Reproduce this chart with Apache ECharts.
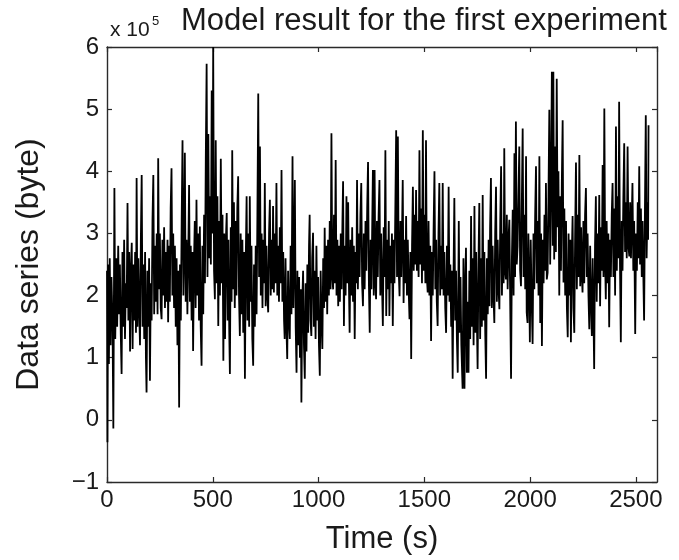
<!DOCTYPE html>
<html>
<head>
<meta charset="utf-8">
<script src="https://cdn.jsdelivr.net/npm/echarts@6/dist/echarts.min.js"></script>
<style>
html,body{margin:0;padding:0;background:#fff;}
#chart{width:679px;height:560px;}
</style>
</head>
<body>
<div id="chart"></div>
<script>
// Values: [time (s), data (x 10^5 byte)]
var seg0 = [[0,2.4],[2,-0.36],[5,2.5],[9,0.9],[13,2.6],[17,1.2],[21,2.3],[26,1.6],[30,-0.14],[35,3.73],[39,1.3],[44,2.6],[48,1.5],[53,2.8],[57,1.7],[61,2.5],[65,1.4],[69,0.74],[73,2.7],[77,1.5],[81,2.9],[85,1.3],[89,2.2],[93,1.8],[97,3.49],[101,1.6],[105,2.7],[109,1.1],[113,2.4]];
var seg1 = [[117,2.85],[121,1.14],[125,2.5],[129,1.6],[133,2.7],[137,1.4],[140,3.89],[144,1.5],[148,2.6],[152,1.8],[156,1.2],[160,2.9],[164,3.94],[168,1.5],[172,2.5],[176,1.3],[180,2.7],[184,1.0],[187,0.44],[191,2.4],[195,1.5],[199,2.6],[203,0.63],[207,2.2],[211,1.6],[215,3.2],[219,3.94],[223,1.7],[227,2.8],[231,1.9],[235,3.0],[239,1.7],[242,4.21],[246,2.1],[250,3.0],[254,1.8],[258,1.62],[262,2.9],[266,2.0],[270,3.1],[274,1.8],[278,2.7],[282,1.9],[286,2.9],[289,1.57],[293,2.8],[297,1.9],[301,3.4],[305,4.05],[309,2.0],[313,3.0],[317,1.8],[321,2.8],[325,1.5],[329,2.6],[333,1.2],[337,2.4],[341,0.2],[345,2.5],[349,1.6],[353,3.2],[357,4.5],[361,2.0],[365,2.8],[368,4.3],[372,1.9],[376,2.9],[380,1.7],[384,2.6],[388,3.78],[392,1.9],[396,2.8],[400,1.6],[404,2.7],[407,1.11],[411,2.5]];
var seg2 = [[415,3.2],[419,1.8],[423,3.54],[427,2.0],[431,3.0],[435,1.6],[439,3.11],[443,1.5],[447,0.87],[451,2.8],[455,1.7],[459,3.3],[463,2.2],[467,4.2],[471,5.73],[475,2.3],[479,4.6],[483,2.6],[487,3.6],[491,2.5],[495,5.3],[499,3.0],[502,6.0],[506,2.4],[510,1.94],[514,4.5],[518,2.2],[522,3.6],[526,1.51],[530,3.2],[534,2.0],[538,4.2],[542,2.2],[546,3.3],[550,0.95],[554,3.0],[558,1.3],[562,2.9],[566,3.33],[570,1.6],[574,2.9],[578,1.4],[581,0.74],[585,3.1],[589,1.9],[592,4.34],[596,2.1],[600,3.5],[604,1.8],[608,3.2],[612,2.0],[616,3.4],[620,3.92],[624,2.0],[628,1.35],[632,3.0],[636,1.7],[640,2.9],[644,1.4],[648,2.7],[652,0.66],[656,2.6],[660,3.6],[664,1.6],[668,3.0],[672,1.5],[675,3.6],[679,1.9],[683,2.8],[687,1.3],[691,0.87],[695,2.5],[699,1.5],[703,2.8],[707,1.7],[711,3.3],[715,5.25],[719,2.3],[723,4.4],[727,2.0],[731,3.0],[735,1.8],[739,2.9],[743,2.2],[746,3.81],[750,1.83],[754,2.8],[758,2.0],[762,1.73],[766,3.0],[770,3.54],[774,2.0],[778,2.9],[782,2.1],[785,3.44],[789,2.05],[793,3.0],[797,2.2],[801,3.81],[805,2.0],[809,2.8],[813,1.9],[817,3.1],[821,2.2],[825,4.02],[829,1.9],[833,2.7],[837,1.6],[840,1.3]];
var seg3 = [[844,2.6],[848,1.5],[852,0.98],[856,2.4],[860,1.6],[864,1.3],[868,2.8],[872,1.7],[877,4.24],[881,1.8],[885,2.7],[888,3.86],[892,1.5],[896,0.76],[900,2.4],[904,1.2],[908,2.3],[912,1.0],[916,2.1],[919,0.28],[923,1.9],[927,2.4],[931,1.2],[935,0.66],[939,2.2],[943,1.1],[947,2.5],[951,1.4],[955,2.8],[958,3.3],[962,1.6],[966,1.35],[970,2.6],[974,3.01],[978,1.5],[982,2.4],[986,1.3],[990,2.8],[994,1.6],[998,2.3],[1002,1.2],[1006,0.71],[1010,2.4],[1014,1.6],[1018,1.14],[1022,2.6],[1026,1.8],[1029,3.09],[1033,1.9],[1037,2.8],[1041,1.7],[1045,2.9],[1049,2.0],[1053,3.2],[1057,2.1],[1061,4.61],[1065,2.3],[1069,2.1],[1073,3.3],[1077,2.2],[1081,4.18],[1085,2.0],[1089,2.9],[1093,1.83],[1097,2.8],[1101,1.9],[1105,3.0],[1109,2.1],[1113,3.2],[1116,3.84],[1120,1.51],[1124,2.8],[1128,2.0],[1132,3.6],[1136,2.2],[1140,3.5],[1144,2.1],[1147,1.4],[1151,2.9],[1155,2.0],[1159,3.1],[1163,1.9],[1167,2.8],[1171,1.3],[1175,2.7],[1179,2.2],[1182,3.86],[1186,2.1],[1190,3.0],[1194,2.3],[1198,3.3],[1202,3.81],[1206,2.2],[1210,1.83],[1214,3.0],[1218,2.1],[1222,3.2],[1226,2.4],[1230,3.4],[1234,4.15],[1238,2.2],[1242,1.4],[1246,2.9],[1250,2.1],[1254,3.2],[1257,4.02]];
var seg4 = [[1261,2.0],[1265,4.02],[1269,2.2],[1272,1.94],[1276,3.2],[1280,2.3],[1284,3.3],[1288,3.86],[1292,2.0],[1296,3.0],[1300,2.2],[1304,1.51],[1308,3.1],[1312,2.3],[1316,4.34],[1320,1.67],[1324,2.9],[1328,2.1],[1332,3.2],[1335,1.67],[1339,2.8],[1343,2.2],[1347,3.0],[1351,1.51],[1355,2.9],[1359,2.2],[1363,3.4],[1367,4.66],[1371,2.3],[1375,4.56],[1379,2.4],[1383,1.99],[1387,3.2],[1391,2.3],[1395,3.1],[1398,3.86],[1402,1.88],[1406,2.9],[1410,2.2],[1414,3.28],[1418,2.0],[1422,2.9],[1426,2.1],[1430,1.62],[1434,2.7],[1438,0.98],[1442,2.8],[1446,3.75],[1450,2.4],[1454,3.3],[1458,2.5],[1461,3.7],[1465,2.4],[1469,3.2],[1473,2.3],[1477,4.34],[1481,2.5],[1485,3.4],[1489,2.2],[1493,4.66],[1497,2.4],[1501,3.3],[1505,2.2],[1508,4.5],[1512,2.3],[1516,2.05],[1520,3.2],[1524,2.0],[1528,2.8],[1532,1.27],[1536,2.7],[1540,2.0],[1544,3.1],[1548,4.0],[1552,2.1],[1556,2.9],[1559,1.9],[1563,1.51],[1567,3.0],[1571,3.81],[1575,2.0],[1579,2.8],[1583,2.1],[1587,3.81],[1591,2.0],[1595,2.7],[1599,1.8],[1603,1.4],[1607,2.8],[1611,2.0],[1615,3.75],[1619,1.9],[1623,2.5],[1627,1.5],[1630,2.4],[1634,0.66],[1638,2.3],[1642,3.57],[1646,1.6],[1650,2.4],[1654,1.3],[1658,0.76],[1663,3.2],[1667,1.4],[1671,2.3],[1675,1.2],[1681,0.5]];
var seg5 = [[1685,2.6],[1690,0.5],[1694,2.3],[1697,2.77],[1701,0.76],[1705,1.9],[1709,0.76],[1713,2.4],[1717,1.3],[1721,3.28],[1725,1.5],[1729,2.6],[1733,1.2],[1737,3.44],[1741,1.4],[1745,2.7],[1749,1.5],[1752,0.82],[1756,2.5],[1760,3.49],[1764,1.3],[1768,2.6],[1772,1.5],[1776,3.62],[1780,1.6],[1784,2.7],[1788,1.4],[1792,0.66],[1796,2.6],[1800,1.7],[1804,2.9],[1808,1.83],[1811,3.1],[1815,3.89],[1819,1.8],[1823,2.8],[1827,2.0],[1831,1.56],[1835,3.0],[1839,3.75],[1843,1.9],[1847,2.9],[1851,2.1],[1855,1.78],[1859,3.2],[1863,4.08],[1867,2.0],[1871,3.0],[1875,2.2],[1878,4.37],[1882,2.4],[1886,2.26],[1890,3.3],[1894,2.1],[1898,2.9],[1902,3.22],[1906,1.9],[1910,0.66],[1914,2.6],[1918,3.38],[1922,2.0],[1926,4.29],[1929,2.3],[1933,4.8],[1937,2.5],[1941,2.8],[1945,3.6],[1949,4.4],[1953,2.4],[1957,2.15],[1961,3.5],[1965,4.69],[1969,2.3],[1973,3.3],[1977,2.1],[1981,4.24],[1984,1.73],[1988,1.56],[1992,3.0],[1996,2.1],[1999,1.25],[2003,2.9],[2007,2.0],[2012,1.22],[2016,3.0],[2020,2.1],[2024,3.3],[2028,4.08],[2032,2.2],[2036,3.2],[2040,2.0],[2044,4.24],[2048,1.56],[2052,3.0],[2056,1.19],[2060,2.9],[2064,2.2],[2068,3.3],[2072,2.4],[2075,3.81],[2079,2.26],[2083,2.37],[2087,3.6],[2091,4.99],[2095,2.5],[2099,3.8],[2103,5.6]];
var seg6 = [[2107,2.8],[2110,5.6],[2114,2.58],[2118,4.4],[2122,2.7],[2126,5.49],[2130,3.1],[2134,4.0],[2138,2.0],[2142,3.6],[2146,2.4],[2150,3.8],[2154,4.82],[2158,2.21],[2162,3.4],[2166,2.0],[2170,3.2],[2174,1.8],[2178,1.33],[2182,3.0],[2186,2.0],[2190,2.9],[2193,1.25],[2197,2.6],[2201,3.28],[2205,1.8],[2209,1.4],[2213,3.0],[2217,4.14],[2221,2.1],[2225,3.3],[2229,2.3],[2233,4.26],[2237,2.15],[2241,3.1],[2245,2.3],[2248,2.05],[2252,3.2],[2256,2.2],[2260,3.3],[2264,3.73],[2268,2.3],[2272,3.0],[2276,2.0],[2280,1.46],[2284,2.8],[2288,1.9],[2292,1.35],[2296,2.6],[2300,1.6],[2303,0.82],[2307,2.8],[2311,3.6],[2315,1.9],[2319,3.0],[2323,2.2],[2327,3.62],[2331,1.83],[2335,3.1],[2339,2.4],[2343,4.1],[2347,2.3],[2351,5.01],[2355,2.5],[2358,1.94],[2362,3.2],[2366,2.2],[2370,3.0],[2374,1.49],[2378,2.9],[2382,2.3],[2386,3.3],[2390,3.81],[2394,2.3],[2398,3.4],[2402,2.0],[2406,4.72],[2410,2.4],[2414,3.6],[2418,2.6],[2421,5.12],[2425,2.5],[2429,1.25],[2433,3.2],[2437,2.4],[2441,3.6],[2445,4.45],[2449,2.7],[2453,3.5],[2457,2.6],[2461,4.4],[2465,2.8],[2469,2.63],[2473,3.5],[2477,2.6],[2481,3.3],[2484,3.81],[2488,2.4],[2492,3.2],[2497,1.38],[2501,3.0],[2505,2.4],[2509,3.5],[2512,2.6],[2516,4.08],[2520,2.5],[2524,3.4],[2528,2.3],[2532,3.2],[2536,2.2],[2539,1.6],[2543,3.4],[2547,4.9],[2551,2.6],[2555,3.5],[2558,2.9],[2560,4.74]];

var xTicks = [0, 500, 1000, 1500, 2000, 2500];
var yTicks = [-1, 0, 1, 2, 3, 4, 5, 6];
var titleText = 'Model result for the first experiment';
var xName = 'Time (s)';
var yName = 'Data series (byte)';

var series = seg0.concat(seg1, seg2, seg3, seg4, seg5, seg6);

var FONT = 'Liberation Sans, Arial, Helvetica, sans-serif';
var TXT = '#1a1a1a';
var AX = '#2a2a2a';

function yFmt(v){ return v < 0 ? '\u2212' + Math.abs(v) : String(v); }
function xFmt(v){ return xTicks.indexOf(v) >= 0 ? String(v) : ''; }

var chart = echarts.init(document.getElementById('chart'), null, {renderer:'canvas'});
var axisLine = {show:true, onZero:false, lineStyle:{color:AX, width:1.4}};
var tick = {show:true, inside:true, length:5, lineStyle:{color:AX, width:1.2}};

chart.setOption({
  animation:false,
  backgroundColor:'#ffffff',
  title:{
    text:titleText, left:181, top:6, padding:0,
    textStyle:{fontFamily:FONT, fontSize:31, fontWeight:'normal', color:TXT}
  },
  graphic:[
    {type:'text', x:110, y:30, style:{text:'x 10', font:'21px ' + FONT, fill:TXT, textVerticalAlign:'middle'}},
    {type:'text', x:152, y:21, style:{text:'5', font:'13px ' + FONT, fill:TXT, textVerticalAlign:'middle'}}
  ],
  grid:{left:107, right:22, top:47, bottom:77, containLabel:false},
  xAxis:[
    {type:'value', min:0, max:2600, interval:500, position:'bottom',
     name:xName, nameLocation:'middle', nameGap:42,
     nameTextStyle:{fontFamily:FONT, fontSize:31, color:TXT},
     axisLine:axisLine, axisTick:tick, splitLine:{show:false},
     axisLabel:{fontFamily:FONT, fontSize:24, color:TXT, margin:6, formatter:xFmt, showMaxLabel:false}},
    {type:'value', min:0, max:2600, interval:500, position:'top',
     axisLine:axisLine, axisTick:tick, splitLine:{show:false}, axisLabel:{show:false}}
  ],
  yAxis:[
    {type:'value', min:-1, max:6, interval:1, position:'left',
     name:yName, nameLocation:'middle', nameGap:62,
     nameTextStyle:{fontFamily:FONT, fontSize:32, color:TXT},
     axisLine:axisLine, axisTick:tick, splitLine:{show:false},
     axisLabel:{fontFamily:FONT, fontSize:24, color:TXT, margin:8, formatter:yFmt}},
    {type:'value', min:-1, max:6, interval:1, position:'right',
     axisLine:axisLine, axisTick:tick, splitLine:{show:false}, axisLabel:{show:false}}
  ],
  series:[{
    type:'line', data:series, xAxisIndex:0, yAxisIndex:0,
    showSymbol:false, symbol:'none', sampling:null, smooth:false,
    lineStyle:{color:'#000000', width:1.8, join:'bevel'}, clip:true
  }]
});
</script>
</body>
</html>
